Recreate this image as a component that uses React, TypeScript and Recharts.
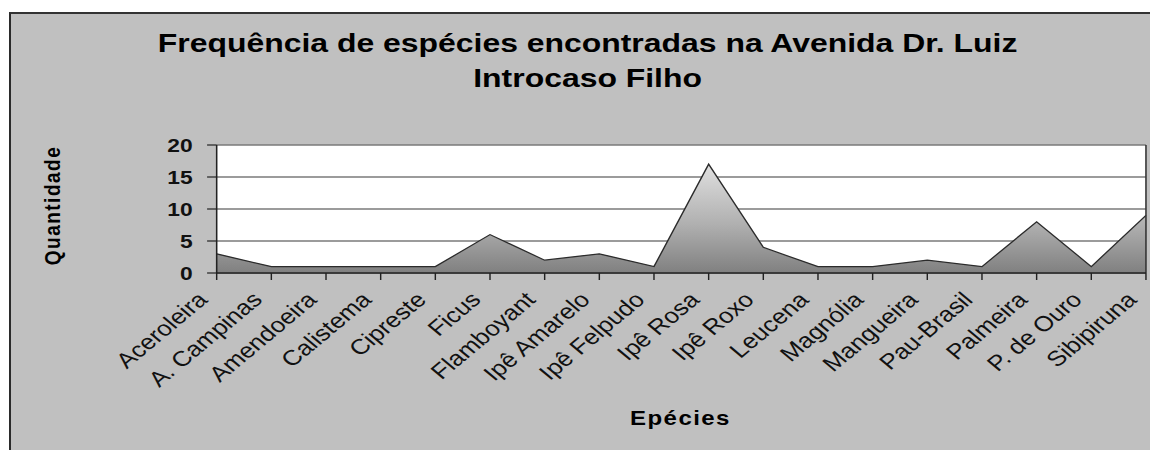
import React from 'react';
import { AreaChart, Area, XAxis, YAxis, CartesianGrid, ReferenceLine } from 'recharts';

const categories = [
  'Aceroleira', 'A. Campinas', 'Amendoeira', 'Calistema', 'Cipreste', 'Ficus',
  'Flamboyant', 'Ipê Amarelo', 'Ipê Felpudo', 'Ipê Rosa', 'Ipê Roxo', 'Leucena',
  'Magnólia', 'Mangueira', 'Pau-Brasil', 'Palmeira', 'P. de Ouro', 'Sibipiruna',
];
const quantities = [3, 1, 1, 1, 1, 6, 2, 3, 1, 17, 4, 1, 1, 2, 1, 8, 1, 9];
const yTicks = [0, 5, 10, 15, 20];
const titleLines = ['Frequência de espécies encontradas na Avenida Dr. Luiz', 'Introcaso Filho'];
const yLabel = 'Quantidade';
const xLabel = 'Epécies';

const data = categories.map((name, i) => ({ name, value: quantities[i] }));

const FONT = '"Liberation Sans", Arial, Helvetica, sans-serif';
const SX = 1.2;
const W = 952;
const H = 442;

const XTick = (props: any) => {
  const { x, y, payload } = props;
  const ax = x - 6.5;
  const ay = y + 19;
  return (
    <text
      x={ax}
      y={ay}
      textAnchor="end"
      transform={`rotate(-45, ${ax}, ${ay})`}
      fontFamily={FONT}
      fontSize={21.5}
      fill="#111"
    >
      {payload.value}
    </text>
  );
};

export default function App() {
  return (
    <div
      style={{
        position: 'fixed', left: 0, top: 0, width: '100vw', height: '100vh',
        overflow: 'hidden', background: '#fff',
      }}
    >
      <div
        style={{
          position: 'absolute', left: 9, top: 12, right: 0, bottom: 0,
          background: '#c0c0c0', borderTop: '2px solid #333', borderLeft: '2px solid #2a2a2a',
        }}
      />
      <div
        style={{
          position: 'absolute', left: 8, top: 8, width: W, height: H,
          transform: `scaleX(${SX})`, transformOrigin: '0 0',
        }}
      >
        <div style={{ position: 'absolute', left: 0, top: 0 }}>
          <AreaChart width={W} height={H} data={data} margin={{ top: 137, right: 3.7, bottom: 0, left: 0 }}>
            <defs>
              <linearGradient id="areaFill" x1="0" y1="0" x2="0" y2="1">
                <stop offset="0%" stopColor="#e0e0e0" />
                <stop offset="55%" stopColor="#b0b0b0" />
                <stop offset="100%" stopColor="#808080" />
              </linearGradient>
            </defs>
            <CartesianGrid vertical={false} stroke="#7a7a7a" strokeWidth={1.4} fill="#ffffff" />
            <XAxis
              dataKey="name"
              height={177}
              interval={0}
              tickSize={7}
              tickMargin={2}
              tick={<XTick />}
              axisLine={{ stroke: '#222', strokeWidth: 1.3 }}
              tickLine={{ stroke: '#222', strokeWidth: 1.2 }}
            />
            <YAxis
              width={173.9}
              domain={[0, 20]}
              ticks={yTicks}
              interval={0}
              tickSize={8}
              tickMargin={12}
              tick={{ fontFamily: FONT, fontSize: 19, fontWeight: 700, fill: '#111' }}
              axisLine={{ stroke: '#222', strokeWidth: 1.3 }}
              tickLine={{ stroke: '#222', strokeWidth: 1.2 }}
            />
            <ReferenceLine x={categories[categories.length - 1]} stroke="#333" strokeWidth={1.3} />
            <Area
              type="linear"
              dataKey="value"
              stroke="#2b2b2b"
              strokeWidth={1.2}
              fill="url(#areaFill)"
              fillOpacity={1}
              dot={false}
              activeDot={false}
              isAnimationActive={false}
            />
          </AreaChart>
        </div>
        <svg width={W} height={H} style={{ position: 'absolute', left: 0, top: 0, pointerEvents: 'none' }}>
          <text x={483} y={44} textAnchor="middle" fontFamily={FONT} fontSize={26.6} fontWeight={700} fill="#000">
            {titleLines[0]}
          </text>
          <text x={483} y={79.5} textAnchor="middle" fontFamily={FONT} fontSize={26.6} fontWeight={700} fill="#000">
            {titleLines[1]}
          </text>
          <text
            x={36.7}
            y={197.5}
            transform="rotate(-90, 36.7, 197.5)"
            textAnchor="middle"
            dominantBaseline="central"
            fontFamily={FONT}
            fontSize={19}
            fontWeight={700}
            letterSpacing={1.5}
            fill="#000"
          >
            {yLabel}
          </text>
          <text x={560.4} y={417} textAnchor="middle" fontFamily={FONT} fontSize={20} fontWeight={700} letterSpacing={1.2} fill="#000">
            {xLabel}
          </text>
        </svg>
      </div>
    </div>
  );
}
